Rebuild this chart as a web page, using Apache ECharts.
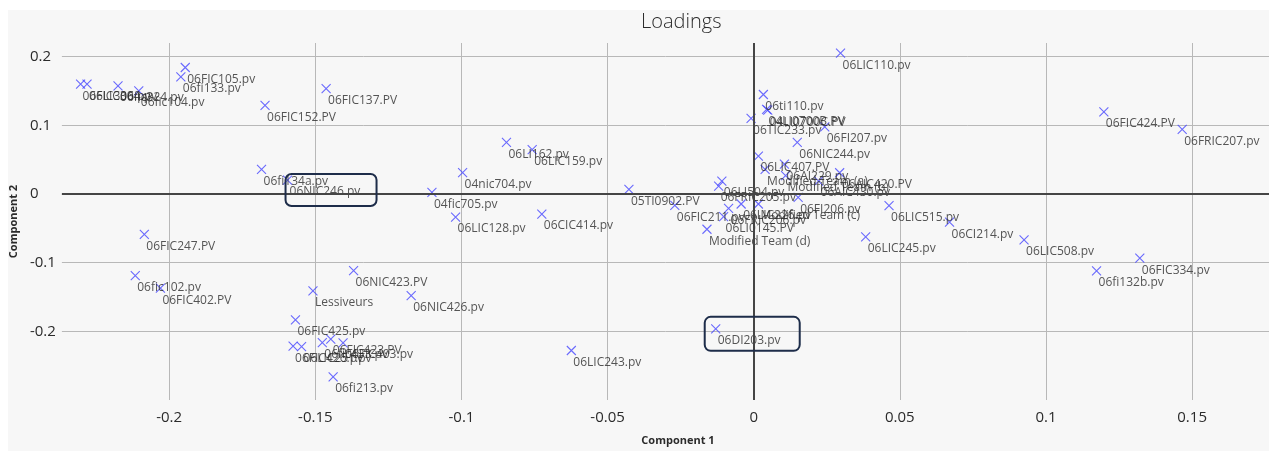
<!DOCTYPE html>
<html>
<head>
<meta charset="utf-8">
<title>Loadings</title>
<script src="https://cdn.jsdelivr.net/npm/echarts@6/dist/echarts.min.js"></script>
<style>
  html, body { margin: 0; padding: 0; background: #ffffff; }
  #chart { width: 1269px; height: 451px; }
</style>
</head>
<body>
<div id="chart"></div>
<script>
// Variable names of the PCA loadings plot
const pointNames = [
  '06FIC306.pv', '06LIC304.pv', '06fic324.pv', '06fic104.pv', '06FIC105.pv',
  '06fi133.pv', '06FIC152.PV', '06FIC137.PV', '06fi134a.pv', '06NIC246.pv',
  '04fic705.pv', '04nic704.pv', '06LI162.pv', '06LIC159.pv', '06LIC128.pv',
  '06CIC414.pv', '05TI0902.PV', '06FIC211.pv', 'Modified Team (d)', '06LI504.pv',
  '06FRIC205.pv', '06LIC226.pv', '06FRIC206.pv', '06LI0145.PV', 'Modified Team (c)',
  '06FI206.pv', '06ti110.pv', '04LI0700B.PV', '04LI0700C.PV', '06TIC233.pv',
  '06FI207.pv', '06NIC244.pv', '06LIC407.PV', '06AI229.pv', 'Modified Team (a)',
  '06AIC420.PV', 'Modified Team (b)', '06AIC430.pv', '06LIC110.pv', '06FIC424.PV',
  '06FRIC207.pv', '06LIC515.pv', '06CI214.pv', '06LIC245.pv', '06LIC508.pv',
  '06FIC334.pv', '06fi132b.pv', '06DI203.pv', '06LIC243.pv', '06FIC247.PV',
  '06fic102.pv', '06FIC402.PV', '06NIC423.PV', 'Lessiveurs', '06NIC426.pv',
  '06FIC425.pv', '06FIC426.pv', '06LIC251.pv', '06fic433.pv', '06FIC423.PV',
  '06FIC403.pv', '06fi213.pv'
];

// Component 1 loading of each variable
const comp1 = [
  -0.2303, -0.2281, -0.2175, -0.2104, -0.1945,
  -0.1960, -0.1672, -0.1463, -0.1684, -0.1595,
  -0.1101, -0.0996, -0.0846, -0.0758, -0.1020,
  -0.0725, -0.0427, -0.0270, -0.0160, -0.0109,
  -0.0120, -0.0043, -0.0086, -0.0103, 0.0016,
  0.0152, 0.0033, 0.0044, 0.0048, -0.0009,
  0.0243, 0.0149, 0.0016, 0.0105, 0.0039,
  0.0294, 0.0109, 0.0222, 0.0297, 0.1198,
  0.1466, 0.0463, 0.0670, 0.0383, 0.0925,
  0.1321, 0.1173, -0.0130, -0.0624, -0.2085,
  -0.2116, -0.2030, -0.1369, -0.1508, -0.1172,
  -0.1568, -0.1576, -0.1547, -0.1476, -0.1447,
  -0.1405, -0.1439
];

// Component 2 loading of each variable
const comp2 = [
  0.1600, 0.1600, 0.1575, 0.1503, 0.1843,
  0.1706, 0.1290, 0.1537, 0.0359, 0.0204,
  0.0025, 0.0313, 0.0753, 0.0646, -0.0335,
  -0.0291, 0.0068, -0.0164, -0.0513, 0.0189,
  0.0116, -0.0145, -0.0208, -0.0330, -0.0145,
  -0.0048, 0.1450, 0.1232, 0.1222, 0.1101,
  0.0979, 0.0752, 0.0553, 0.0436, 0.0359,
  0.0310, 0.0269, 0.0189, 0.2051, 0.1197,
  0.0941, -0.0170, -0.0410, -0.0625, -0.0669,
  -0.0935, -0.1120, -0.1964, -0.2279, -0.0586,
  -0.1188, -0.1372, -0.1116, -0.1411, -0.1479,
  -0.1833, -0.2215, -0.2221, -0.2163, -0.2112,
  -0.2167, -0.2662
];

// Tick values on both axes
const xTicks = [-0.2, -0.15, -0.1, -0.05, 0, 0.05, 0.1, 0.15];
const yTicks = [-0.2, -0.1, 0, 0.1, 0.2];

// Variables called out with a rounded frame
const highlighted = ['06NIC246.pv', '06DI203.pv'];

const FONT = '"Open Sans", "Noto Sans", sans-serif';
const MARK_BLUE = '#4646ff';
const GRID_GREY = '#b8b8b8';
const TEXT_DARK = '#2b2b2b';

const points = pointNames.map((name, i) => ({ name: name, value: [comp1[i], comp2[i]] }));

const chart = echarts.init(document.getElementById('chart'), null, { renderer: 'canvas' });

chart.setOption({
  animation: false,
  backgroundColor: '#ffffff',
  textStyle: { fontFamily: FONT },
  title: {
    text: 'Loadings',
    left: 636,
    top: 7,
    textStyle: { fontFamily: FONT, fontSize: 20, fontWeight: 300, color: TEXT_DARK }
  },
  graphic: [{
    id: 'panel',
    type: 'rect',
    z: -10,
    silent: true,
    shape: { x: 8, y: 10, width: 1261, height: 441 },
    style: { fill: '#f7f7f7' }
  }],
  grid: { left: 58, right: 0, top: 43, bottom: 51, containLabel: false },
  xAxis: {
    type: 'value',
    min: -0.2367,
    max: 0.1763,
    name: 'Component 1',
    nameLocation: 'middle',
    nameGap: 35,
    nameTextStyle: { fontFamily: FONT, fontSize: 11, fontWeight: 'bold', color: TEXT_DARK, padding: [0, 0, 0, 25] },
    axisLine: { show: false },
    axisTick: { show: false, customValues: xTicks },
    axisLabel: { customValues: xTicks, margin: 10, fontSize: 15, color: TEXT_DARK, fontFamily: FONT },
    splitLine: { show: true, lineStyle: { color: GRID_GREY, width: 1 } }
  },
  yAxis: {
    type: 'value',
    min: -0.3,
    max: 0.22,
    name: 'Component 2',
    nameLocation: 'middle',
    nameGap: 36,
    nameRotate: 90,
    nameTextStyle: { fontFamily: FONT, fontSize: 11, fontWeight: 'bold', color: TEXT_DARK },
    axisLine: { show: false },
    axisTick: { show: false, customValues: yTicks },
    axisLabel: { customValues: yTicks, margin: 32, align: 'left', fontSize: 15, color: TEXT_DARK, fontFamily: FONT },
    splitLine: { show: true, lineStyle: { color: GRID_GREY, width: 1 } }
  },
  series: [{
    type: 'scatter',
    data: points,
    symbol: 'path://M0,0L10,10M10,0L0,10',
    symbolSize: 9,
    itemStyle: { color: 'none', borderColor: MARK_BLUE, borderWidth: 1.1 },
    label: {
      show: true,
      position: [9, 13],
      formatter: p => p.name,
      fontFamily: FONT,
      fontSize: 12,
      color: TEXT_DARK
    },
    labelLayout: { hideOverlap: false },
    markLine: {
      silent: true,
      symbol: 'none',
      label: { show: false },
      lineStyle: { color: '#454545', width: 2, type: 'solid' },
      data: [{ xAxis: 0 }, { yAxis: 0 }]
    },
    emphasis: { disabled: true }
  }]
});

// Rounded frames around the called-out variables, placed from their data position
const frameOffsets = {
  '06NIC246.pv': { dx: -2, dy: -6, w: 91, h: 32 },
  '06DI203.pv': { dx: -11, dy: -12, w: 95, h: 34 }
};
const frames = highlighted.map(name => {
  const i = pointNames.indexOf(name);
  const p = chart.convertToPixel({ gridIndex: 0 }, [comp1[i], comp2[i]]);
  const o = frameOffsets[name];
  return {
    id: 'frame-' + name,
    type: 'rect',
    z: 100,
    silent: true,
    shape: { x: p[0] + o.dx, y: p[1] + o.dy, width: o.w, height: o.h, r: 6 },
    style: { fill: 'none', stroke: '#1e2d4a', lineWidth: 2 }
  };
});
chart.setOption({ graphic: frames });
</script>
</body>
</html>
